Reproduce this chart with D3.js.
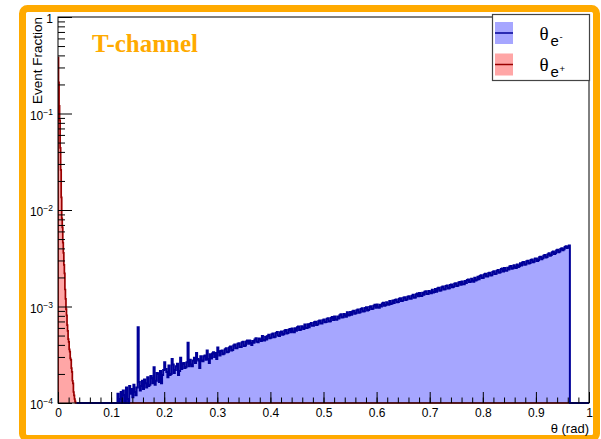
<!DOCTYPE html>
<html>
<head>
<meta charset="utf-8">
<script src="https://cdn.jsdelivr.net/npm/d3@7/dist/d3.min.js"></script>
<style>
  body { margin: 0; background: #fff; }
  svg { display: block; }
</style>
</head>
<body>
<svg id="chart" width="601" height="439"></svg>
<script>
// ---- data ---------------------------------------------------------------
// θ(e-) event fraction, bin width 0.002 starting at 0.112, in units of 1e-4
const UNIT = 1e-4;
const electronStart = 0.112;
const electronBinWidth = 0.002;
const electronRange = [0.035, 1.0];
const electronFrac = [
  1.25, 0.9, 1.1, 1.3, 0.85, 1.35, 1.2, 0.95, 1.45, 1.1,
  0.95, 1.5, 1.25, 1.4, 1.15, 1.55, 1.3, 1.2, 1.45, 6.1,
  1.65, 1.35, 1.5, 1.7, 1.4, 1.75, 1.6, 1.45, 1.85, 1.5,
  1.55, 1.9, 1.8, 1.6, 2.35, 1.55, 1.7, 2.05, 2.0, 1.65,
  2.15, 1.6, 1.95, 2.2, 2.65, 2.25, 2.1, 1.85, 2.45, 1.95,
  2.0, 2.85, 2.5, 2.05, 2.2, 2.4, 2.55, 1.95, 2.15, 2.95,
  2.25, 2.55, 2.6, 2.3, 2.35, 2.65, 4.2, 2.4, 2.8, 2.5,
  2.4, 2.75, 2.95, 2.6, 3.3, 2.85, 2.75, 2.3, 3.05, 2.75,
  2.7, 3.05, 3.1, 2.8, 3.5, 2.85, 2.6, 3.2, 2.9, 3.25,
  3.35, 3.0, 3.3, 2.85, 3.75, 3.4, 3.1, 3.45, 3.5, 3.2,
  3.25, 3.6, 3.7, 3.35, 3.4, 3.75, 3.85, 3.5, 3.55, 3.95,
  4.05, 3.7, 3.7, 4.1, 4.15, 3.8, 3.8, 4.25, 4.3, 3.9,
  3.95, 4.35, 4.45, 4.1, 4.45, 4.15, 4.0, 4.4, 4.2, 4.55,
  4.7, 4.3, 4.25, 4.65, 4.55, 4.4, 4.95, 4.5, 4.45, 4.85,
  4.55, 4.95, 5.1, 4.7, 4.75, 5.15, 5.25, 4.8, 4.85, 5.3,
  5.45, 5.0, 4.95, 5.4, 5.5, 5.1, 5.15, 5.6, 5.7, 5.25,
  5.3, 5.75, 5.85, 5.4, 5.9, 5.5, 5.4, 5.95, 5.6, 6.1,
  6.2, 5.7, 5.75, 6.25, 6.05, 5.85, 6.5, 6.0, 6.0, 6.55,
  6.1, 6.6, 6.75, 6.3, 6.3, 6.85, 6.95, 6.45, 6.5, 7.05,
  7.15, 6.65, 6.65, 7.2, 7.35, 6.85, 6.9, 7.45, 7.55, 7.0,
  7.05, 7.65, 7.8, 7.25, 7.9, 7.35, 7.3, 7.9, 7.5, 8.1,
  8.3, 7.7, 7.75, 8.35, 8.1, 7.85, 8.7, 8.05, 8.1, 8.75,
  8.2, 8.85, 9.05, 8.4, 8.5, 9.15, 9.3, 8.6, 8.7, 9.4,
  9.6, 8.9, 8.95, 9.65, 9.8, 9.1, 9.2, 9.9, 10.05, 9.4,
  9.45, 10.2, 10.4, 9.7, 10.5, 9.8, 9.7, 10.45, 10.0, 10.75,
  10.95, 10.2, 10.3, 11.05, 10.7, 10.4, 11.4, 10.6, 10.75, 11.55,
  10.85, 11.65, 11.85, 11.05, 11.15, 12.0, 12.2, 11.4, 11.45, 12.35,
  12.5, 11.7, 11.8, 12.65, 12.8, 12.0, 12.05, 12.95, 13.2, 12.3,
  12.4, 13.4, 13.65, 12.75, 13.8, 12.85, 12.85, 13.85, 13.2, 14.2,
  14.4, 13.45, 13.5, 14.5, 14.05, 13.7, 14.95, 13.95, 14.1, 15.15,
  14.25, 15.35, 15.6, 14.6, 14.65, 15.8, 16.1, 15.0, 15.1, 16.3,
  16.5, 15.4, 15.5, 16.7, 16.95, 15.85, 16.0, 17.2, 17.4, 16.3,
  16.4, 17.7, 17.95, 16.8, 18.2, 17.0, 17.0, 18.35, 17.5, 18.85,
  19.1, 17.9, 18.0, 19.35, 18.6, 18.1, 19.9, 18.6, 18.9, 20.3,
  19.2, 20.7, 21.1, 19.7, 19.8, 21.4, 21.8, 20.4, 20.5, 22.1,
  22.4, 21.0, 21.1, 22.8, 23.2, 21.7, 21.8, 23.5, 23.9, 22.4,
  22.6, 24.4, 24.7, 23.1, 25.0, 23.4, 23.4, 25.2, 24.2, 26.0,
  26.3, 24.6, 24.9, 26.8, 25.6, 25.0, 27.3, 25.6, 26.1, 28.0,
  26.6, 28.6, 28.9, 27.1, 27.3, 29.5, 29.8, 27.9, 28.3, 30.4,
  30.7, 28.8, 29.2, 31.4, 31.4, 29.7, 30.1, 32.4, 32.8, 30.8,
  31.6, 33.6, 34.2, 32.2, 32.6, 34.8, 35.7, 33.6, 34.2, 36.4,
  37.1, 35.0, 35.6, 38.0, 38.7, 36.5, 37.1, 39.5, 40.2, 38.2,
  39.1, 41.3, 42.0, 40.5, 41.6, 42.8
];

// θ(e+) event fraction, bin width 0.001 starting at 0
const positronStart = 0;
const positronBinWidth = 0.001;
const positronRange = [0, 0.964];
const positronFrac = [
  0.38, 0.21, 0.12, 0.085, 0.044, 0.026, 0.0135, 0.0082, 0.0066, 0.0046,
  0.0036, 0.0027, 0.0022, 0.0015, 0.0012, 0.00094, 0.00081, 0.00064, 0.00056, 0.00046,
  0.00043, 0.00036, 0.00034, 0.00029, 0.00028, 0.00023, 0.00021, 0.00017, 0.00016, 0.00013,
  0.00012, 0.00011, 0.000104, 0.000096
];

const xMajorTicks = [0, 0.1, 0.2, 0.3, 0.4, 0.5, 0.6, 0.7, 0.8, 0.9, 1];
const xTickLabels = ["0", "0.1", "0.2", "0.3", "0.4", "0.5", "0.6", "0.7", "0.8", "0.9", "1"];
const yDecades = [1e-4, 1e-3, 1e-2, 1e-1, 1];
const yTickLabels = [["10", "−4"], ["10", "−3"], ["10", "−2"], ["10", "−1"], ["1", ""]];

const legendItems = [
  { sign: "-", fill: "#a6a6ff", line: "#000099" },
  { sign: "+", fill: "#ffa6a6", line: "#990000" }
];

// ---- layout ---------------------------------------------------------------
const SANS = "Liberation Sans, Arial, Helvetica, sans-serif";
const SERIF = "Liberation Serif, Times New Roman, serif";
const svg = d3.select("#chart").attr("font-family", SANS);
const plot = { left: 58, right: 589, top: 17, bottom: 403 };

const x = d3.scaleLinear().domain([0, 1]).range([plot.left, plot.right]);
const y = d3.scaleLog().domain([1e-4, 1]).range([plot.bottom, plot.top]);
const yv = v => (v > 1e-4 ? y(v) : plot.bottom);

// orange outer frame
svg.append("rect")
  .attr("x", 22.5).attr("y", 8.5).attr("width", 574).attr("height", 430)
  .attr("rx", 5).attr("ry", 5)
  .attr("fill", "#fff").attr("stroke", "#ffaa00").attr("stroke-width", 7);

svg.append("clipPath").attr("id", "plotClip")
  .append("rect").attr("x", plot.left).attr("y", plot.top)
  .attr("width", plot.right - plot.left).attr("height", plot.bottom - plot.top + 1);

// step outline of a histogram, running along zero over the rest of its range
function histPoints(start, width, values, range, scale) {
  const pts = [[range[0], 0], [start, 0]];
  values.forEach((v, i) => {
    const x0 = start + i * width, x1 = start + (i + 1) * width;
    pts.push([x0, v * scale], [x1, v * scale]);
  });
  const end = start + values.length * width;
  pts.push([end, 0], [range[1], 0]);
  return pts;
}

const ePts = histPoints(electronStart, electronBinWidth, electronFrac, electronRange, UNIT);
const pPts = histPoints(positronStart, positronBinWidth, positronFrac, positronRange, 1);

const area = d3.area().x(d => x(d[0])).y0(plot.bottom).y1(d => yv(d[1]));
const line = d3.line().x(d => x(d[0])).y(d => yv(d[1]));

const g = svg.append("g").attr("clip-path", "url(#plotClip)");
g.append("path").attr("d", area(ePts)).attr("fill", "#a6a6ff");
g.append("path").attr("d", area(pPts)).attr("fill", "#ffa6a6");
g.append("path").attr("d", line(pPts)).attr("fill", "none")
  .attr("stroke", "#990000").attr("stroke-width", 1.7);
g.append("path").attr("d", line(ePts)).attr("fill", "none")
  .attr("stroke", "#000099").attr("stroke-width", 2).attr("stroke-linejoin", "miter");

// ---- axes ---------------------------------------------------------------
const xMinor = d3.range(0, 1.0001, 0.02).map(v => +v.toFixed(2));
svg.append("g").attr("transform", `translate(0,${plot.bottom})`)
  .call(d3.axisBottom(x).tickValues(xMinor).tickSize(-5.5).tickFormat(""))
  .call(s => s.select(".domain").remove());
svg.append("g").attr("transform", `translate(0,${plot.bottom})`)
  .call(d3.axisBottom(x).tickValues(xMajorTicks).tickSize(-11).tickPadding(5.5)
    .tickFormat((d, i) => xTickLabels[i]))
  .call(s => s.select(".domain").remove())
  .call(s => s.selectAll("text").attr("font-size", 12).attr("fill", "#000")
    .attr("font-family", SANS));

const yMinor = [];
for (let e = -4; e < 0; e++) for (let m = 2; m <= 9; m++) yMinor.push(m * Math.pow(10, e));
svg.append("g").attr("transform", `translate(${plot.left},0)`)
  .call(d3.axisLeft(y).tickValues(yMinor).tickSize(-7).tickFormat(""))
  .call(s => s.select(".domain").remove());
const yAxis = svg.append("g").attr("transform", `translate(${plot.left},0)`)
  .call(d3.axisLeft(y).tickValues(yDecades).tickSize(-14).tickPadding(5).tickFormat(""))
  .call(s => s.select(".domain").remove());
yAxis.selectAll(".tick").each(function (d, i) {
  const t = d3.select(this).select("text")
    .attr("dy", null).attr("y", 5.5).attr("font-size", 12).attr("fill", "#000")
    .attr("font-family", SANS);
  t.append("tspan").text(yTickLabels[i][0]);
  if (yTickLabels[i][1]) {
    t.append("tspan").attr("font-size", 8.5).attr("dy", -5).text(yTickLabels[i][1]);
  }
});
svg.selectAll(".tick line").attr("stroke", "#000").attr("stroke-width", 1);

// plot frame
svg.append("rect")
  .attr("x", plot.left).attr("y", plot.top)
  .attr("width", plot.right - plot.left).attr("height", plot.bottom - plot.top)
  .attr("fill", "none").attr("stroke", "#000").attr("stroke-width", 1);

// axis titles
svg.append("text")
  .attr("transform", `translate(42,${plot.top}) rotate(-90)`)
  .attr("text-anchor", "end").attr("font-size", 13.5).text("Event Fraction");
svg.append("text")
  .attr("x", plot.right).attr("y", 433).attr("text-anchor", "end").attr("font-size", 13)
  .text("θ (rad)");

// channel tag
svg.append("text")
  .attr("x", 92).attr("y", 52)
  .attr("font-family", SERIF)
  .attr("font-weight", "bold").attr("font-size", 25).attr("fill", "#ffaa00")
  .text("T-channel");

// ---- legend ---------------------------------------------------------------
const lg = svg.append("g");
lg.append("rect").attr("x", 492.5).attr("y", 14.5).attr("width", 97).attr("height", 66)
  .attr("fill", "#fff").attr("stroke", "#444").attr("stroke-width", 1.2);
legendItems.forEach((it, i) => {
  const cy = 33 + i * 31.5;
  lg.append("rect").attr("x", 495).attr("y", cy - 11).attr("width", 18).attr("height", 22)
    .attr("fill", it.fill);
  lg.append("line").attr("x1", 495).attr("x2", 513).attr("y1", cy).attr("y2", cy)
    .attr("stroke", it.line).attr("stroke-width", 1.5);
  lg.append("text").attr("x", 539.5).attr("y", cy + 6.5)
    .attr("font-family", SERIF).attr("font-size", 19)
    .text("θ");
  lg.append("text").attr("x", 550.5).attr("y", cy + 12.5).attr("font-size", 15).text("e");
  lg.append("text").attr("x", 559.5).attr("y", cy + 7).attr("font-size", 9.5).text(it.sign);
});
</script>
</body>
</html>
